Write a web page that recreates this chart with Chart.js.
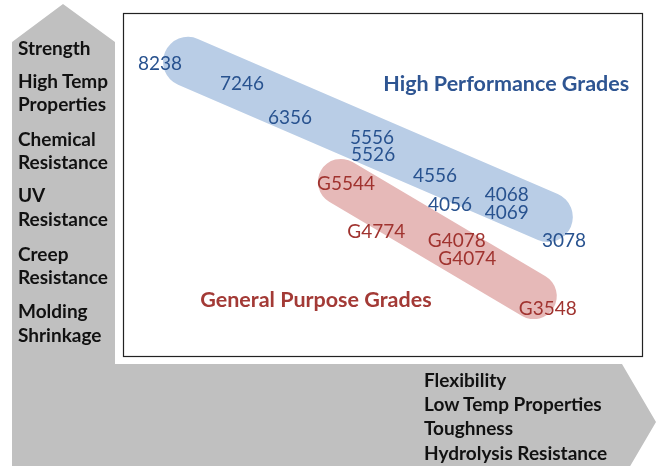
<!DOCTYPE html>
<html><head><meta charset="utf-8">
<script src="https://cdn.jsdelivr.net/npm/chart.js@4"></script>
<style>
html,body{margin:0;padding:0;background:#fff;}
#wrap{position:relative;width:657px;height:466px;overflow:hidden;}
#c{position:absolute;left:0;top:0;}
.side{position:absolute;font-family:Lato,sans-serif;font-weight:bold;font-size:19px;line-height:19px;color:#111;white-space:nowrap;}
</style></head><body>
<div id="wrap"><canvas id="c" width="657" height="466"></canvas></div>
<script>
// ---- data (positions in a 0-100 property space) ----
const highGrades = ['8238','7246','6356','5556','5526','4556','4056','4068','4069','3078'];
const highX = [7.1, 22.9, 32.1, 47.9, 48.1, 60.0, 62.9, 73.8, 73.8, 84.8];
const highY = [85.5, 79.7, 69.8, 64.0, 59.0, 52.9, 44.5, 47.4, 42.2, 34.0];
const generalGrades = ['G5544','G4774','G4078','G4074','G3548'];
const generalX = [42.9, 48.7, 64.2, 66.2, 81.7];
const generalY = [50.6, 36.6, 34.0, 28.8, 14.2];
const groupNames = ['High Performance Grades','General Purpose Grades'];
const groupX = [73.7, 37.1];
const groupY = [79.7, 16.9];
const highBandX = [12.5, 81.7];
const highBandY = [85.8, 40.7];
const generalBandX = [41.9, 79.0];
const generalBandY = [50.9, 17.7];
const verticalAxisLabels = ['Strength','High Temp','Properties','Chemical','Resistance','UV','Resistance','Creep','Resistance','Molding','Shrinkage'];
const horizontalAxisLabels = ['Flexibility','Low Temp Properties','Toughness','Hydrolysis Resistance'];

// ---- layout ----
const vBase = [55, 88, 111, 146, 169, 202, 226, 261, 284, 318, 342];
const hBase = [387, 411, 435, 460];
const wrap = document.getElementById('wrap');
function addSide(text, x, baseline){
  const d = document.createElement('div');
  d.className = 'side';
  d.textContent = text;
  d.style.left = x + 'px';
  d.style.top = (baseline - 0.887*19) + 'px';
  wrap.appendChild(d);
}
verticalAxisLabels.forEach((t,i)=>addSide(t, 18, vBase[i]));
horizontalAxisLabels.forEach((t,i)=>addSide(t, 424, hBase[i]));

const pts = (xs, ys) => xs.map((x,i)=>({x, y: ys[i]}));

const bgPlugin = {
  id: 'bg',
  beforeDraw(chart){
    const ctx = chart.ctx, a = chart.chartArea;
    ctx.save();
    ctx.fillStyle = '#c0c0c0';
    ctx.beginPath();
    ctx.moveTo(63, 4);
    ctx.lineTo(115, 42);
    ctx.lineTo(115, 364);
    ctx.lineTo(622, 364);
    ctx.lineTo(656, 422);
    ctx.lineTo(622, 480);
    ctx.lineTo(12, 480);
    ctx.lineTo(12, 42);
    ctx.closePath();
    ctx.fill();
    ctx.fillStyle = '#fff';
    ctx.fillRect(a.left, a.top, a.right - a.left, a.bottom - a.top);
    ctx.strokeStyle = '#222';
    ctx.lineWidth = 1.2;
    ctx.strokeRect(a.left + 0.5, a.top + 0.5, a.right - a.left - 1, a.bottom - a.top - 1);
    ctx.restore();
  }
};

const labelPlugin = {
  id: 'pointLabels',
  afterDatasetsDraw(chart){
    const ctx = chart.ctx;
    chart.data.datasets.forEach((ds, di) => {
      if (!ds.labels) return;
      const meta = chart.getDatasetMeta(di);
      ctx.save();
      ctx.font = ds.labelFont;
      ctx.fillStyle = ds.labelColor;
      ctx.textAlign = 'center';
      ctx.textBaseline = 'alphabetic';
      meta.data.forEach((el, i) => {
        ctx.fillText(ds.labels[i], el.x, el.y + ds.capShift);
      });
      ctx.restore();
    });
  }
};

new Chart(document.getElementById('c'), {
  type: 'scatter',
  data: {
    datasets: [
      { type:'line', data: pts(highBandX, highBandY), borderColor:'#b9cde6', borderWidth:50,
        borderCapStyle:'round', pointRadius:0, fill:false, order:3, clip:false },
      { type:'line', data: pts(generalBandX, generalBandY), borderColor:'#e6b9b8', borderWidth:46,
        borderCapStyle:'round', pointRadius:0, fill:false, order:2, clip:false },
      { data: pts(highX, highY), labels: highGrades, pointRadius:0, order:1,
        labelFont:'19px Lato', labelColor:'#28528f', capShift:6.8 },
      { data: pts(generalX, generalY), labels: generalGrades, pointRadius:0, order:1,
        labelFont:'19px Lato', labelColor:'#a0332f', capShift:6.8 },
      { data: pts(groupX.slice(0,1), groupY.slice(0,1)), labels: groupNames.slice(0,1), pointRadius:0, order:1,
        labelFont:'bold 21.5px Lato', labelColor:'#2e5592', capShift:7.7 },
      { data: pts(groupX.slice(1), groupY.slice(1)), labels: groupNames.slice(1), pointRadius:0, order:1,
        labelFont:'bold 21.5px Lato', labelColor:'#a33a36', capShift:7.7 }
    ]
  },
  options: {
    responsive: false,
    animation: false,
    events: [],
    layout: { padding: { left:123, top:13, right:14, bottom:109 } },
    scales: {
      x: { type:'linear', min:0, max:100, display:false },
      y: { type:'linear', min:0, max:100, display:false }
    },
    plugins: { legend:{display:false}, tooltip:{enabled:false}, title:{display:false} }
  },
  plugins: [bgPlugin, labelPlugin]
});
</script>
</body></html>
